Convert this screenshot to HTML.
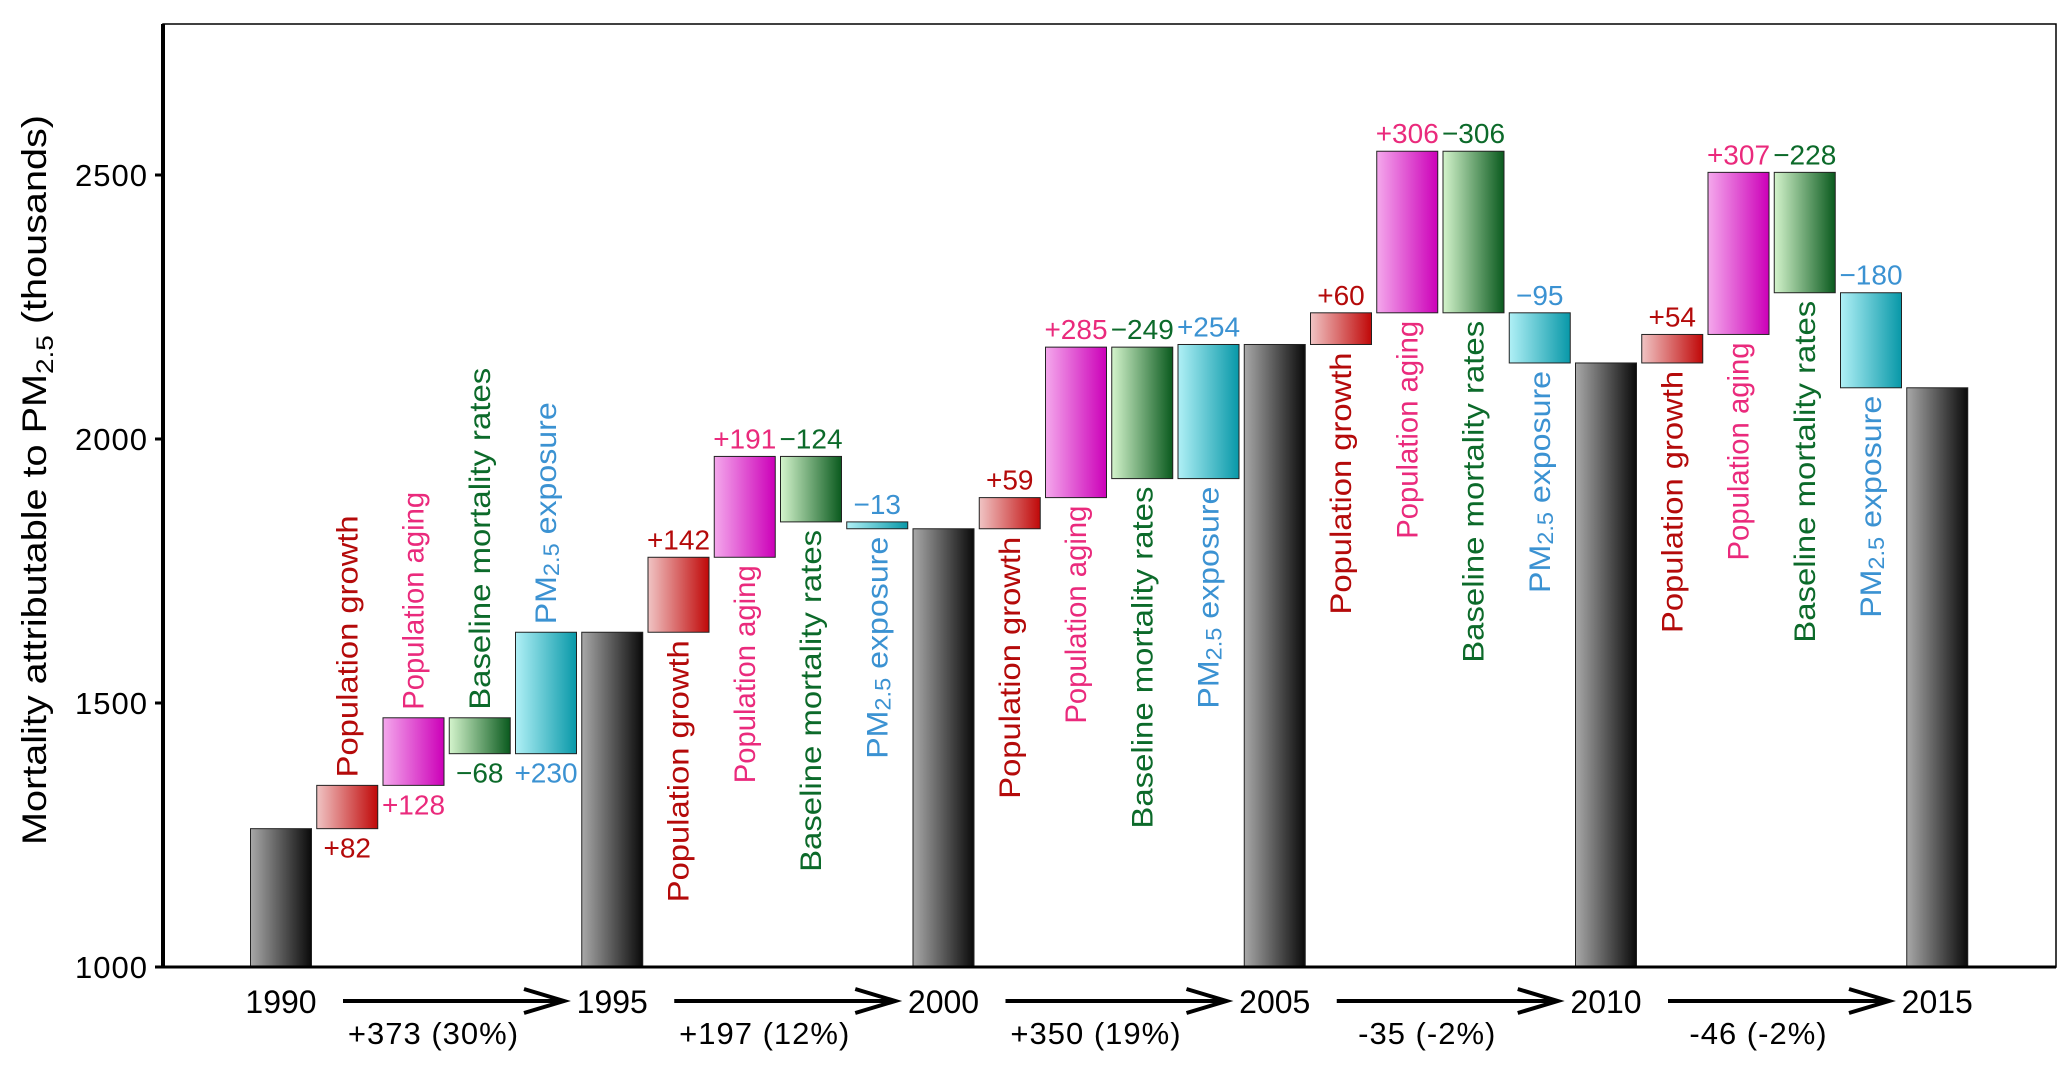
<!DOCTYPE html>
<html><head><meta charset="utf-8"><style>
html,body{margin:0;padding:0;background:#fff;}
svg{display:block;font-family:"Liberation Sans",sans-serif;}
</style></head><body>
<svg id="chart" width="2067" height="1065" viewBox="0 0 2067 1065">
<defs>
<linearGradient id="gT" x1="0" x2="1"><stop offset="0" stop-color="#a8a8a8"/><stop offset="1" stop-color="#0a0a0a"/></linearGradient>
<linearGradient id="g0" x1="0" x2="1"><stop offset="0" stop-color="#f0c4c4"/><stop offset="1" stop-color="#c00808"/></linearGradient>
<linearGradient id="g1" x1="0" x2="1"><stop offset="0" stop-color="#f4a8ec"/><stop offset="1" stop-color="#cc00b8"/></linearGradient>
<linearGradient id="g2" x1="0" x2="1"><stop offset="0" stop-color="#d4f4cc"/><stop offset="1" stop-color="#0a5a1e"/></linearGradient>
<linearGradient id="g3" x1="0" x2="1"><stop offset="0" stop-color="#b0f0f6"/><stop offset="1" stop-color="#0898a8"/></linearGradient>
</defs>
<g id="marks"></g>
<rect x="163" y="24" width="1893" height="943" fill="none" stroke="#000" stroke-width="1.5"/>
<line x1="163" y1="24" x2="163" y2="968" stroke="#000" stroke-width="4"/>
<line x1="162" y1="967" x2="2056" y2="967" stroke="#000" stroke-width="3"/>
<g id="axes"></g>
<text transform="translate(46,480) rotate(-90)" text-anchor="middle" font-size="34" textLength="730" lengthAdjust="spacingAndGlyphs">Mortality attributable to PM<tspan font-size="24" dy="7">2.5</tspan><tspan dy="-7"> (thousands)</tspan></text>
</svg>
<script>
const years = ["1990","1995","2000","2005","2010","2015"];
const totals = [1262, 1634, 1830, 2179, 2144, 2097];
const popGrowth = [82, 142, 59, 60, 54];
const popAging = [128, 191, 285, 306, 307];
const baseline = [-68, -124, -249, -306, -228];
const exposure = [230, -13, 254, -95, -180];
const changeLabels = ["+373 (30%)", "+197 (12%)", "+350 (19%)", "-35 (-2%)", "-46 (-2%)"];
const yTicks = [1000, 1500, 2000, 2500];
const compNames = ["Population growth", "Population aging", "Baseline mortality rates", "exposure"];

const NS = "http://www.w3.org/2000/svg";
const marks = document.getElementById('marks');
const axes = document.getElementById('axes');
const yS = v => 967 - (v - 1000) * 0.528;
const xS = slot => 281 + slot * 66.25;
const BW = 61;
const fills = ["url(#g0)", "url(#g1)", "url(#g2)", "url(#g3)"];
const textCols = ["#b40a0a", "#ea2a7c", "#0c6a2a", "#3b92d2"];
const series = [popGrowth, popAging, baseline, exposure];
const sname = ["population-growth", "population-aging", "baseline-mortality", "pm25-exposure"];
function mk(tag, attrs, parent) { const e = document.createElementNS(NS, tag); for (const k in attrs) e.setAttribute(k, attrs[k]); (parent || marks).appendChild(e); return e; }

years.forEach((y, i) => {
  const cx = xS(i * 5);
  const r = mk('rect', {x: cx - BW/2, y: yS(totals[i]), width: BW, height: yS(1000) - yS(totals[i]), fill: 'url(#gT)', stroke: '#222', 'stroke-width': 1});
  
  
  const t = mk('text', {x: cx, y: 1013, 'text-anchor': 'middle', 'font-size': 32}, axes);
  t.textContent = y;
  
  
  if (i < 5) {
    const x0 = cx + 62, x1 = cx + 283;
    const ln = mk('path', {d: `M${x0} 1001 H${x1} M${x1-40} 989 L${x1} 1001 L${x1-40} 1013`, stroke: '#000', 'stroke-width': 4, fill: 'none'}, axes);
    
    
    const c = mk('text', {x: (x0 + x1) / 2 - 20, y: 1044, 'text-anchor': 'middle', 'font-size': 31, 'letter-spacing': 1}, axes);
    c.textContent = changeLabels[i];
    
    
    let cur = totals[i];
    for (let k = 0; k < 4; k++) {
      const v = series[k][i];
      const nxt = cur + v;
      const top = Math.max(cur, nxt), bot = Math.min(cur, nxt);
      const bx = xS(i * 5 + k + 1);
      const b = mk('rect', {x: bx - BW/2, y: yS(top), width: BW, height: yS(bot) - yS(top), fill: fills[k], stroke: '#222', 'stroke-width': 1});
      
      
      const flip = (i === 0);
      const vt = mk('text', {x: bx, y: flip ? yS(bot) + 29 : yS(top) - 8, 'text-anchor': 'middle', 'font-size': 28, fill: textCols[k]});
      vt.textContent = (v >= 0 ? '+' : '\u2212') + Math.abs(v);
      
      
      const ly = flip ? yS(top) - 8 : yS(bot) + 8;
      const ct = mk('text', {transform: `translate(${bx + 10},${ly}) rotate(-90)`, 'text-anchor': flip ? 'start' : 'end', 'font-size': 30, fill: textCols[k]});
      if (k === 3) {
        ct.appendChild(document.createTextNode('PM'));
        const s = mk('tspan', {'font-size': 22, dy: 3}, ct); s.textContent = '2.5';
        const s2 = mk('tspan', {dy: -3}, ct); s2.textContent = ' exposure';
        ct.setAttribute('textLength', 222);
      } else {
        ct.textContent = compNames[k];
        ct.setAttribute('textLength', [262, 218, 342][k]);
      }
      ct.setAttribute('lengthAdjust', 'spacingAndGlyphs');
      
      
      cur = nxt;
    }
  }
});
yTicks.forEach(v => {
  const l = mk('line', {x1: 155, x2: 163, y1: yS(v), y2: yS(v), stroke: '#000', 'stroke-width': 3}, axes);
  
  
  const t = mk('text', {x: 148, y: yS(v) + 11, 'text-anchor': 'end', 'font-size': 31, 'letter-spacing': 1}, axes);
  t.textContent = v;
  
  
});
</script>
</body></html>
